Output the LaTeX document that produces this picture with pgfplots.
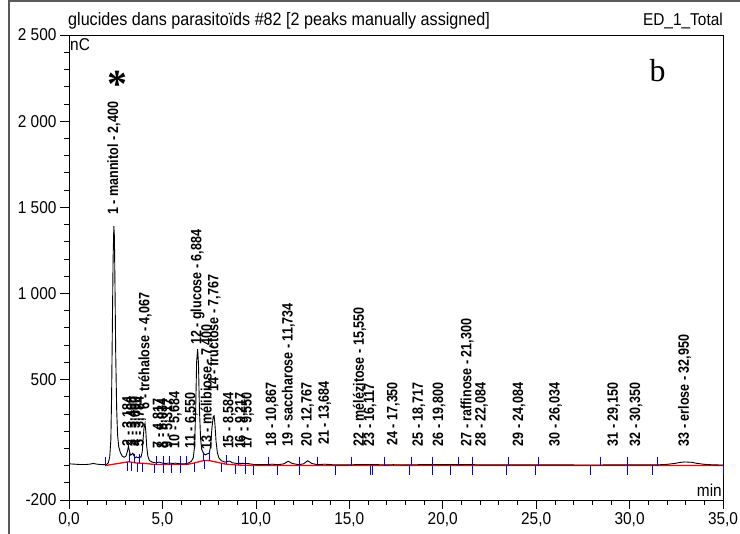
\documentclass[border=0pt]{standalone}
\usepackage{pgfplots}
\pgfplotsset{compat=1.18}
\usepackage{fontspec}
\setmainfont{Liberation Sans}[FakeStretch=0.9]
\newfontfamily\labfont{Liberation Sans}[FakeStretch=0.84]
\newfontfamily\seriffont{Liberation Serif}
\newcommand{\lab}{\labfont\fontsize{15.0}{16}\selectfont\bfseries}
\newcommand{\txt}{\fontsize{17.2}{19}\selectfont}
\begin{document}
\begin{tikzpicture}[x=1bp,y=1bp]
\useasboundingbox (-69,-34) rectangle (671,500);
\begin{axis}[
  at={(0,0)}, anchor=south west,
  scale only axis, width=654bp, height=465bp,
  xmin=0, xmax=35, ymin=-200, ymax=2500,
  axis line style={black, line width=0.8bp},
  xtick={0,5,...,35},
  xticklabels={{0,0},{5,0},{10,0},{15,0},{20,0},{25,0},{30,0},{35,0}},
  minor xtick={0,1,...,35},
  ytick={-200,500,1000,1500,2000,2500},
  yticklabels={-200,500,1 000,1 500,2 000,2 500},
  minor ytick={-200,-100,...,2500},
  xtick pos=bottom, ytick pos=left,
  tick align=outside,
  major tick length=9bp, minor tick length=5bp,
  tick style={black, line width=0.6bp},
  ticklabel style={font=\txt},
  clip=false,
]
% red integration baseline
\addplot[red, line width=1.3bp] coordinates {
(1.94,0)(3.2,22)(3.6,15)(4.1,12)(4.6,6)(6.3,6)(6.7,15)(7.25,30)(7.55,28)(8.4,8)(9.0,3)(10,0)(35,0)};
% chromatogram trace
\addplot[black, line width=0.9bp] coordinates {
(0.00,10)(0.30,8)(0.60,6)(0.90,6)(1.10,8)(1.30,12)(1.50,8)(1.80,5)(2.00,6)(2.10,15)
(2.18,50)(2.24,150)(2.28,400)(2.32,800)(2.36,1200)(2.40,1390)(2.43,1330)(2.46,1050)(2.50,650)
(2.55,330)(2.60,180)(2.66,110)(2.75,75)(2.85,55)(2.95,48)(3.05,55)(3.12,80)(3.18,112)(3.24,80)
(3.30,60)(3.36,65)(3.42,72)(3.48,55)(3.55,45)(3.62,50)(3.70,45)(3.78,52)(3.85,48)(3.92,80)
(3.97,160)(4.02,225)(4.067,246)(4.11,200)(4.16,110)(4.22,55)(4.30,30)(4.45,20)(4.65,15)(4.82,20)
(5.00,14)(5.15,12)(5.35,15)(5.55,12)(5.70,14)(5.95,10)(6.20,10)(6.40,15)(6.55,25)(6.65,45)
(6.72,110)(6.78,330)(6.83,600)(6.884,676)(6.93,590)(6.98,330)(7.04,160)(7.10,95)(7.20,70)(7.30,62)
(7.40,68)(7.50,72)(7.58,110)(7.65,220)(7.72,285)(7.767,289)(7.81,240)(7.87,140)(7.94,75)(8.02,45)
(8.15,28)(8.35,20)(8.58,26)(8.75,16)(9.00,12)(9.22,13)(9.55,12)(9.90,6)(10.50,5)(10.87,8)
(11.20,5)(11.50,10)(11.73,25)(11.95,12)(12.30,5)(12.55,10)(12.77,28)(13.00,12)(13.30,5)(13.68,8)
(14.20,4)(15.00,4)(15.55,6)(16.12,6)(17.00,4)(17.35,5)(18.00,4)(18.72,5)(19.80,5)(21.30,6)
(22.08,4)(24.08,4)(26.03,4)(28.00,3)(29.15,4)(30.35,4)(31.50,4)(32.00,7)(32.40,12)(32.70,18)
(32.95,21)(33.30,19)(33.60,13)(34.00,7)(34.50,4)(35.00,3)};
% blue peak delimiters (upward)
\addplot[only marks, mark=|, mark size=4.5bp, blue, mark options={line width=0.8bp}] coordinates {
(1.94,26)(3.23,48)(3.49,43)(3.79,40)(4.68,32)(5.06,32)(5.39,32)(5.95,32)(6.28,32)(7.21,55)
(7.54,54)(8.41,34)(9.04,28)(9.45,26)(10.69,26)(12.34,26)(13.30,26)(15.13,26)(16.9,26)(18.32,26)
(19.43,26)(20.86,26)(21.57,26)(23.52,26)(25.14,26)(28.43,26)(29.86,26)(31.48,26)};
% blue peak delimiters (downward)
\addplot[only marks, mark=|, mark size=4.5bp, blue, mark options={line width=0.8bp}] coordinates {
(3.11,-4)(3.36,-7)(3.64,-10)(3.92,-12)(4.55,-18)(5.03,-19)(5.49,-19)(5.95,-19)(6.71,-10)(7.27,5)
(8.18,-11)(8.89,-21)(9.42,-23)(9.88,-26)(11.15,-26)(12.34,-26)(14.27,-26)(16.11,-26)(16.22,-26)(18.22,-26)
(19.43,-26)(20.42,-26)(21.57,-26)(23.42,-26)(24.96,-26)(27.88,-26)(29.86,-26)(31.2,-26)(35.0,-26)};
% peak labels
\begin{scope}[every node/.style={rotate=90, anchor=west, inner sep=0pt, font=\lab}]
\node at (axis cs:2.400,1455) {1 - mannitol - 2,400};
\node at (axis cs:3.184,110) {2 - 3,184};
\node at (axis cs:3.400,110) {3 - 3,400};
\node at (axis cs:3.600,110) {4 - 3,600};
\node at (axis cs:3.784,110) {5 - 3,784};
\node at (axis cs:4.067,325) {6 - tréhalose - 4,067};
\node at (axis cs:4.817,100) {7 - 4,817};
\node at (axis cs:5.034,100) {8 - 5,034};
\node at (axis cs:5.317,100) {9 - 5,317};
\node at (axis cs:5.684,100) {10 - 5,684};
\node at (axis cs:6.550,100) {11 - 6,550};
\node at (axis cs:6.884,700) {12 - glucose - 6,884};
\node at (axis cs:7.400,90) {13 - mélibiose - 7,400};
\node at (axis cs:7.767,427) {14 - fructose - 7,767};
\node at (axis cs:8.584,95) {15 - 8,584};
\node at (axis cs:9.217,95) {16 - 9,217};
\node at (axis cs:9.550,95) {17 - 9,550};
\node at (axis cs:10.867,110) {18 - 10,867};
\node at (axis cs:11.734,110) {19 - saccharose - 11,734};
\node at (axis cs:12.767,110) {20 - 12,767};
\node at (axis cs:13.684,120) {21 - 13,684};
\node at (axis cs:15.550,110) {22 - mélézitose - 15,550};
\node at (axis cs:16.117,110) {23 - 16,117};
\node at (axis cs:17.350,115) {24 - 17,350};
\node at (axis cs:18.717,110) {25 - 18,717};
\node at (axis cs:19.800,110) {26 - 19,800};
\node at (axis cs:21.300,110) {27 - raffinose - 21,300};
\node at (axis cs:22.084,110) {28 - 22,084};
\node at (axis cs:24.084,110) {29 - 24,084};
\node at (axis cs:26.034,110) {30 - 26,034};
\node at (axis cs:29.150,110) {31 - 29,150};
\node at (axis cs:30.350,110) {32 - 30,350};
\node at (axis cs:32.950,110) {33 - erlose - 32,950};
\end{scope}
\node[font=\seriffont\fontsize{40}{40}\selectfont\bfseries, inner sep=0pt] at (axis cs:2.57,2215) {*};
\node[font=\seriffont\fontsize{32}{32}\selectfont, inner sep=0pt] at (axis cs:31.5,2294) {b};
\end{axis}
% header texts and units
\node[anchor=base west, inner sep=0pt, font=\fontsize{18}{19}\selectfont] at (-1,474) {glucides dans parasitoïds \#82 [2 peaks manually assigned]};
\node[anchor=base east, inner sep=0pt, font=\txt] at (654,474) {ED\_1\_Total};
\node[anchor=north west, inner sep=0pt, font=\txt] at (1,462) {nC};
\node[anchor=base east, inner sep=0pt, font=\txt] at (653,3) {min};
% outer frame
\draw[line width=1.5bp, black!65] (-60,-34) -- (-60,499) -- (671,499);
\end{tikzpicture}
\end{document}
